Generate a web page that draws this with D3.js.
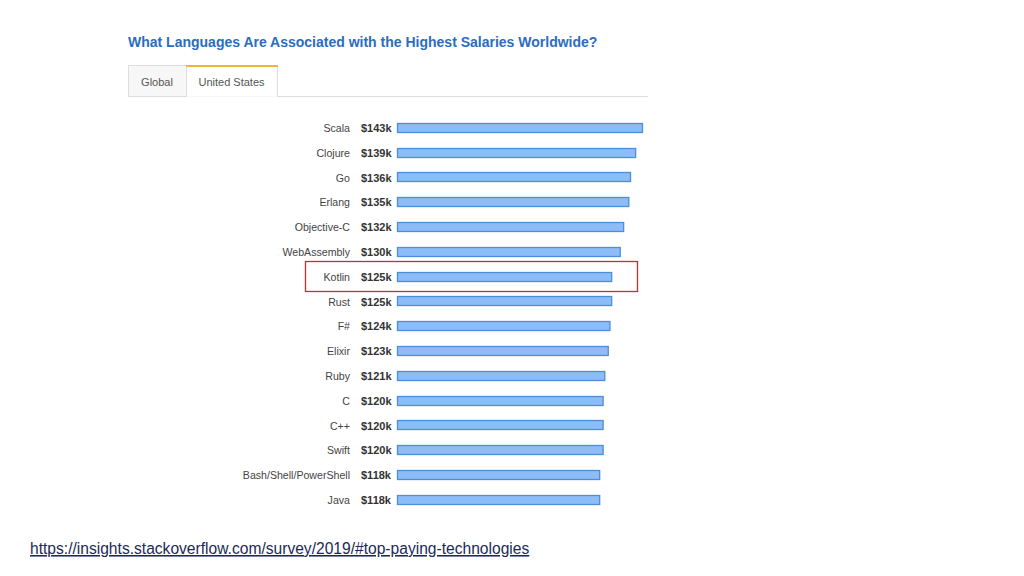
<!DOCTYPE html>
<html><head><meta charset="utf-8">
<script src="https://cdn.jsdelivr.net/npm/d3@7"></script>
<style>body{margin:0;background:#fff;}svg{display:block;font-family:"Liberation Sans",Arial,sans-serif;}</style>
</head><body>
<svg id="c" width="1024" height="576"></svg>
<script>
const languages = ["Scala","Clojure","Go","Erlang","Objective-C","WebAssembly","Kotlin","Rust","F#","Elixir","Ruby","C","C++","Swift","Bash/Shell/PowerShell","Java"];
const salaries = [143,139,136,135,132,130,125,125,124,123,121,120,120,120,118,118];
const tabs = ["Global","United States"];
const highlighted = "Kotlin";
const title = "What Languages Are Associated with the Highest Salaries Worldwide?";
const sourceUrl = "https://insights.stackoverflow.com/survey/2019/#top-paying-technologies";

const svg = d3.select("#c");
svg.append("rect").attr("width",1024).attr("height",576).attr("fill","#fff");

svg.append("text").attr("x",128).attr("y",47).attr("fill","#2b6cc0")
  .attr("font-size",14).attr("font-weight","bold").text(title);

// tabs
const tabX = d3.scaleOrdinal().domain(tabs).range([128,186]);
const tabW = {"Global":58,"United States":91};
svg.append("line").attr("x1",128).attr("x2",648).attr("y1",96.5).attr("y2",96.5).attr("stroke","#ddd");
tabs.forEach(t=>{
  const x = tabX(t), w = tabW[t];
  const active = t==="United States";
  svg.append("rect").attr("x",x+0.5).attr("y",65.5).attr("width",w).attr("height",31)
    .attr("fill",active?"#fff":"#f7f7f7").attr("stroke","#ddd");
  if(active){
    svg.append("line").attr("x1",x+1).attr("x2",x+w).attr("y1",97).attr("y2",97).attr("stroke","#fff").attr("stroke-width",1.5);
    svg.append("line").attr("x1",x).attr("x2",x+w+1).attr("y1",66).attr("y2",66).attr("stroke","#f0b43c").attr("stroke-width",2);
  }
  svg.append("text").attr("x",x+w/2).attr("y",86).attr("text-anchor","middle")
    .attr("font-size",11).attr("fill","#555").text(t);
});

const x = d3.scaleLinear().domain([0,143]).range([397,642]);
const y = d3.scaleBand().domain(languages).range([115,512]).paddingInner(0.62).paddingOuter(0.31);

const rows = svg.append("g").selectAll("g").data(languages).join("g");
rows.append("rect")
  .attr("x",x(0)+0.5).attr("y",d=>Math.round(y(d))+0.5)
  .attr("width",(d,i)=>x(salaries[i])-x(0)).attr("height",9)
  .attr("fill","#8dbcf7").attr("stroke","#4c8ed8").attr("stroke-width",1.3);
rows.append("text").attr("x",350).attr("y",d=>y(d)+y.bandwidth()/2+4.5)
  .attr("text-anchor","end").attr("font-size",10.6).attr("fill","#444").text(d=>d);
rows.append("text").attr("x",361).attr("y",d=>y(d)+y.bandwidth()/2+4.5)
  .attr("font-size",11).attr("font-weight","bold").attr("fill","#333")
  .text((d,i)=>"$"+salaries[i]+"k");

// highlight box
svg.append("rect").attr("x",305.5).attr("y",Math.round(y(highlighted)+y.bandwidth()/2)-14.5)
  .attr("width",332).attr("height",30).attr("fill","none").attr("stroke","#d02a2a").attr("stroke-width",1.3);

svg.append("text").attr("x",30).attr("y",554).attr("font-size",15.6).attr("fill","#1c2a55")
  .attr("text-decoration","underline").text(sourceUrl);
</script>
</body></html>
